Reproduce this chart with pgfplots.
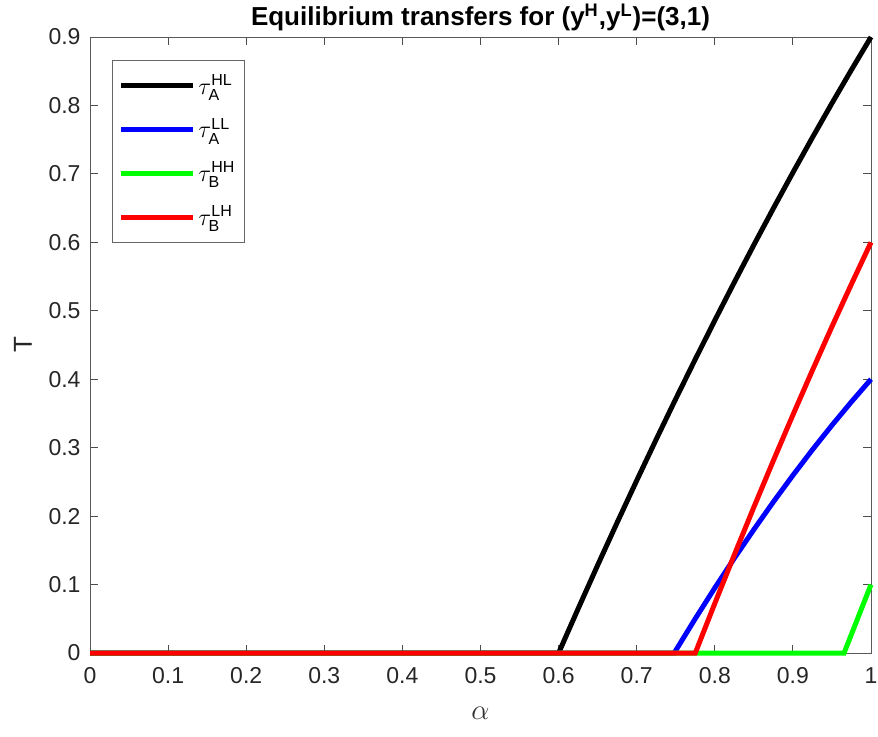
\documentclass[border=0pt]{standalone}
\usepackage{amsmath}
\usepackage{fontspec}
\setmainfont{Liberation Sans}
\usepackage{pgfplots}
\pgfplotsset{compat=1.18}
\begin{document}
\begin{tikzpicture}
\begin{axis}[
  at={(0,0)}, anchor=south west,
  scale only axis,
  width=390.5pt, height=308pt,
  xmin=0, xmax=1, ymin=0, ymax=0.9,
  xtick={0,0.1,...,1}, ytick={0,0.1,...,0.9},
  xticklabels={0,0.1,0.2,0.3,0.4,0.5,0.6,0.7,0.8,0.9,1},
  yticklabels={0,0.1,0.2,0.3,0.4,0.5,0.6,0.7,0.8,0.9},
  /pgf/number format/assume math mode=true,
  tick label style={font=\fontsize{11.5}{13}\selectfont, text=black!85},
  tick align=inside,
  major tick length=3.8pt,
  axis line style={draw=black!65, line width=0.5pt},
  tick style={draw=black!70, line width=0.5pt},
  xticklabel style={yshift=-3.7pt},
  yticklabel style={xshift=-1.2pt},
  title={\textbf{Equilibrium transfers for (y\textsuperscript{H},y\textsuperscript{L})=(3,1)}},
  title style={font=\fontsize{13}{15}\selectfont, at={(axis description cs:0.5,1)}, anchor=base, yshift=0pt},
  xlabel={$\alpha$},
  xlabel style={font=\fontsize{14}{16}\selectfont, text=black!80, at={(axis description cs:0.5,0)}, anchor=center, yshift=-30pt},
  ylabel={T},
  ylabel style={font=\fontsize{13}{15}\selectfont, text=black!85, at={(axis description cs:-0.086,0.5)}, anchor=center},
  clip=false,
  legend cell align=left,
  legend style={at={(0,1)}, anchor=north west, xshift=11pt, yshift=-11.5pt,
    draw=black!60, line width=0.5pt, font=\fontsize{12}{14}\selectfont,
    row sep=6.5pt, inner xsep=3pt, inner ysep=5pt,
    nodes={inner xsep=1.5pt},
    /tikz/every even column/.append style={column sep=0pt}},
  legend image code/.code={\draw[#1] (0pt,0pt) -- (36pt,0pt);},
]
\addplot[black, line width=2.5pt] coordinates {
(0,0) (0.6,0) (0.625,0.0647) (0.65,0.1283) (0.675,0.1907) (0.7,0.252) (0.725,0.3122)
(0.75,0.3713) (0.775,0.4292) (0.8,0.486) (0.825,0.5417) (0.85,0.5963) (0.875,0.6497)
(0.9,0.702) (0.925,0.7532) (0.95,0.8033) (0.975,0.8522) (1,0.9)};
\addlegendentry{$\tau^{\text{HL}}_{\text{A}}$}
\addplot[blue, line width=2.5pt] coordinates {
(0,0) (0.748,0) (0.775,0.0502) (0.8,0.0951) (0.825,0.1385) (0.85,0.1804) (0.875,0.2208)
(0.9,0.2596) (0.925,0.2970) (0.95,0.3328) (0.975,0.3671) (1,0.4)};
\addlegendentry{$\tau^{\text{LL}}_{\text{A}}$}
\addplot[green, line width=2.5pt] coordinates {
(0,0) (0.9655,0) (1,0.1)};
\addlegendentry{$\tau^{\text{HH}}_{\text{B}}$}
\addplot[red, line width=2.5pt] coordinates {
(0,0) (0.775,0) (0.8,0.0725) (0.825,0.1435) (0.85,0.2131) (0.875,0.2812) (0.9,0.3479)
(0.925,0.4131) (0.95,0.4769) (0.975,0.5392) (1,0.6)};
\addlegendentry{$\tau^{\text{LH}}_{\text{B}}$}
\end{axis}
\pgfresetboundingbox
\path[use as bounding box] (-45pt,-41.5pt) rectangle (394pt,326.5pt);
\end{tikzpicture}
\end{document}
